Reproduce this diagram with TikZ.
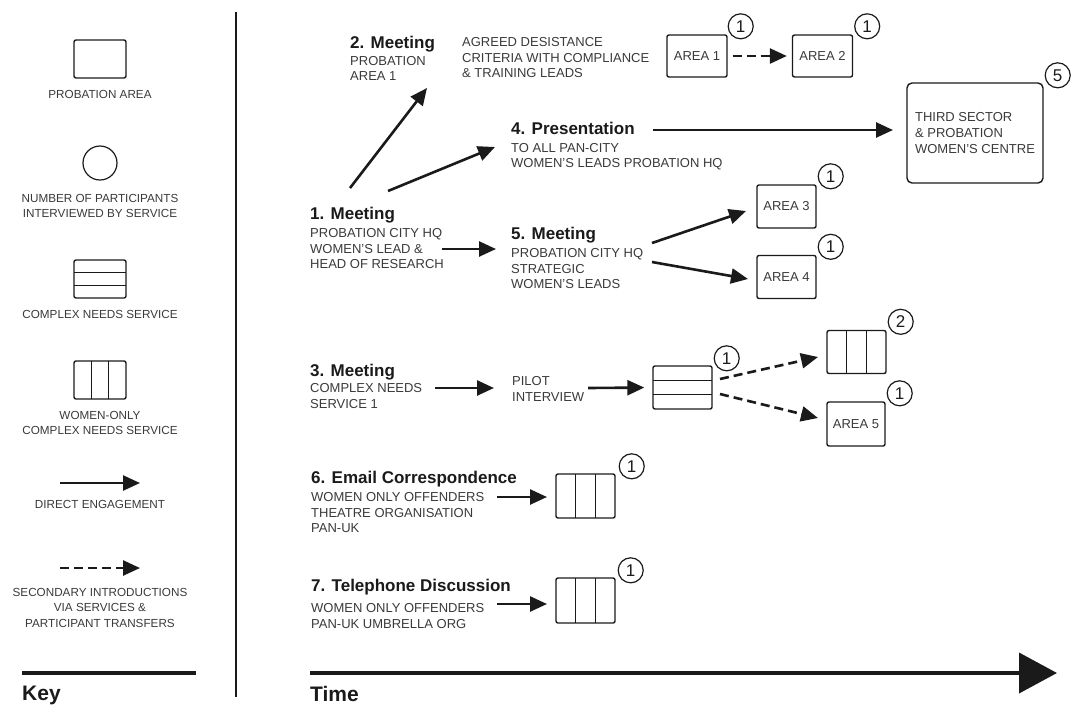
\documentclass[tikz,border=0pt]{standalone}
\usepackage{fontspec}
\setmainfont{Liberation Sans}
\usetikzlibrary{arrows.meta,calc}
\definecolor{ink}{HTML}{1A1A1A}
\definecolor{txt}{HTML}{3A3A3A}
\newcommand{\ksize}{\fontsize{11.7}{15.5}\selectfont}
\newcommand{\dsize}{\fontsize{13}{15.6}\selectfont}

\begin{document}
\begin{tikzpicture}[x=1pt,y=-1pt,
    box/.style={draw=ink,line width=1.4,rounded corners=2,minimum width=59,minimum height=43,inner sep=0,font=\dsize,text=txt},
    cnbox/.style={box,path picture={
        \foreach \f in {1/3,2/3}
          \draw[ink,line width=1.4] ($(path picture bounding box.north west)!\f!(path picture bounding box.south west)$)
            -- ($(path picture bounding box.north east)!\f!(path picture bounding box.south east)$);}},
    wobox/.style={box,path picture={
        \foreach \f in {1/3,2/3}
          \draw[ink,line width=1.4] ($(path picture bounding box.north west)!\f!(path picture bounding box.north east)$)
            -- ($(path picture bounding box.south west)!\f!(path picture bounding box.south east)$);}},
    num/.style={circle,draw=ink,line width=1.2,minimum size=25,inner sep=0,font=\fontsize{17}{17}\selectfont,text=ink},
    arr/.style={ink,line width=2.6,-{Triangle[length=17pt,width=15pt]}},
    dsh/.style={arr,dash pattern=on 9pt off 5pt},
    ttl/.style={anchor=north west,inner sep=0,font=\fontsize{17}{20}\selectfont\bfseries,text=ink},
    dsc/.style={anchor=north west,inner sep=0,align=left,font=\dsize,text=txt},
    ktxt/.style={anchor=north,inner sep=0,align=center,font=\ksize,text=txt},
    head/.style={anchor=base west,inner sep=0,font=\fontsize{21}{24}\selectfont\bfseries,text=ink}]
  \useasboundingbox (0,0) rectangle (1071,705);

  % key
  \node[box,minimum width=52,minimum height=38] (kpa) at (100,59) {};
  \node[ktxt] (kpat) at (100,90) {PROBATION AREA};
  \node[num,minimum size=34] (knum) at (100,163) {};
  \node[ktxt] (knumt) at (100,194) {NUMBER OF PARTICIPANTS\\INTERVIEWED BY SERVICE};
  \node[cnbox,minimum width=52,minimum height=38] (kcn) at (100,279) {};
  \node[ktxt] (kcnt) at (100,310) {COMPLEX NEEDS SERVICE};
  \node[wobox,minimum width=52,minimum height=38] (kwo) at (100,380) {};
  \node[ktxt] (kwot) at (100,411) {WOMEN-ONLY\\COMPLEX NEEDS SERVICE};
  \coordinate (kas) at (60,483);
  \coordinate (kae) at (140,483);
  \draw[arr] (kas) -- (kae);
  \node[ktxt] (kat) at (100,500) {DIRECT ENGAGEMENT};
  \coordinate (kds) at (60,568);
  \coordinate (kde) at (140,568);
  \draw[dsh] (kds) -- (kde);
  \node[ktxt] (kdt) at (100,588) {SECONDARY INTRODUCTIONS\\VIA SERVICES \&\\PARTICIPANT TRANSFERS};
  \draw[ink,line width=4] (22,673) -- (196,673);
  \node[head] (key) at (22,700) {Key};
  \draw[ink,line width=2] (236,12) -- (236,697);

  % time axis
  \draw[ink,line width=4,-{Triangle[length=38pt,width=40pt]}] (310,673) -- (1057,673);
  \node[head] (time) at (310,701) {Time};

  % top row
  \node[ttl] (m2) at (350,36) {2. Meeting};
  \node[dsc] (m2d) at (350,56) {PROBATION\\AREA 1};
  \node[dsc] (agr) at (462,37.5) {AGREED DESISTANCE\\CRITERIA WITH COMPLIANCE\\\& TRAINING LEADS};
  \node[box,minimum width=60,minimum height=42] (ar1) at (697,56) {AREA 1};
  \node[box,minimum width=60,minimum height=42] (ar2) at (822.5,56) {AREA 2};
  \node[num] (n1) at ([shift={(13,-8)}]ar1.north east) {1};
  \node[num] (n2) at ([shift={(14,-8)}]ar2.north east) {1};
  \draw[dsh,shorten <=5pt,shorten >=5pt] (ar1) -- (ar2);

  \node[ttl] (m4) at (511,122) {4. Presentation};
  \node[dsc] (m4d) at (511,143) {TO ALL PAN-CITY\\WOMEN'S LEADS PROBATION HQ};
  \node[box,minimum width=136,minimum height=100,rounded corners=5,align=left] (tsc) at (975,133) {THIRD SECTOR\\\& PROBATION\\WOMEN'S CENTRE};
  \node[num] (n5) at ([shift={(14,-7)}]tsc.north east) {5};

  % meeting 1 and 5
  \node[ttl] (m1) at (310,207) {1. Meeting};
  \node[dsc] (m1d) at (310,228.5) {PROBATION CITY HQ\\WOMEN'S LEAD \&\\HEAD OF RESEARCH};
  \node[ttl] (m5) at (511,227) {5. Meeting};
  \node[dsc] (m5d) at (511,248.5) {PROBATION CITY HQ\\STRATEGIC\\WOMEN'S LEADS};
  \node[box] (ar3) at (786.5,206.5) {AREA 3};
  \node[box] (ar4) at (786.5,277) {AREA 4};
  \node[num] (n3) at ([shift={(14,-8)}]ar3.north east) {1};
  \node[num] (n4) at ([shift={(14,-8)}]ar4.north east) {1};

  % meeting 3
  \node[ttl] (m3) at (310,364) {3. Meeting};
  \node[dsc] (m3d) at (310,383.5) {COMPLEX NEEDS\\SERVICE 1};
  \node[dsc] (pil) at (512,376.5) {PILOT\\INTERVIEW};
  \node[cnbox] (cn) at (682.5,387.5) {};
  \node[wobox] (wo3) at (856.5,352) {};
  \node[box,minimum width=58,minimum height=44] (ar5) at (856,424) {AREA 5};
  \node[num] (n6) at ([shift={(14,-7)}]cn.north east) {1};
  \node[num] (n7) at ([shift={(14,-8)}]wo3.north east) {2};
  \node[num] (n8) at ([shift={(14,-8)}]ar5.north east) {1};

  % meetings 6 and 7
  \node[ttl] (m6) at (311,471) {6. Email Correspondence};
  \node[dsc] (m6d) at (311,492.5) {WOMEN ONLY OFFENDERS\\THEATRE ORGANISATION\\PAN-UK};
  \node[wobox,minimum height=44] (wo6) at (585.5,496) {};
  \node[num] (n9) at ([shift={(16,-7)}]wo6.north east) {1};
  \node[ttl] (m7) at (311,579) {7. Telephone Discussion};
  \node[dsc] (m7d) at (311,603.5) {WOMEN ONLY OFFENDERS\\PAN-UK UMBRELLA ORG};
  \node[wobox,minimum height=45] (wo7) at (585.5,600.5) {};
  \node[num] (n10) at ([shift={(15,-7)}]wo7.north east) {1};

  % arrow ends
  \coordinate (s12) at (350,188);  \coordinate (e12) at (427,88);
  \coordinate (s14) at (388,191);  \coordinate (e14) at (495,147);
  \coordinate (s4)  at (653,130);  \coordinate (e4)  at (893,130);
  \coordinate (s15) at (442,249);  \coordinate (e15) at (496,249);
  \coordinate (s53) at (652,243);  \coordinate (e53) at (746,211);
  \coordinate (s54) at (652,262);  \coordinate (e54) at (748,279);
  \coordinate (s3)  at (435,388);  \coordinate (e3)  at (494,388);
  \coordinate (sp)  at (588,388);
  \coordinate (sd1) at (720,379);  \coordinate (ed1) at (818,357);
  \coordinate (sd2) at (720,394);  \coordinate (ed2) at (818,418);
  \coordinate (s6)  at (497,497);  \coordinate (e6)  at (547,497);
  \coordinate (s7)  at (497,604);  \coordinate (e7)  at (547,604);

  \draw[arr] (s12) -- (e12);
  \draw[arr] (s14) -- (e14);
  \draw[arr] (s4) -- (e4);
  \draw[arr] (s15) -- (e15);
  \draw[arr] (s53) -- (e53);
  \draw[arr] (s54) -- (e54);
  \draw[arr] (s3) -- (e3);
  \draw[arr,shorten >=8pt] (sp) -- (cn.west);
  \draw[dsh] (sd1) -- (ed1);
  \draw[dsh] (sd2) -- (ed2);
  \draw[arr] (s6) -- (e6);
  \draw[arr] (s7) -- (e7);
\end{tikzpicture}
\end{document}
